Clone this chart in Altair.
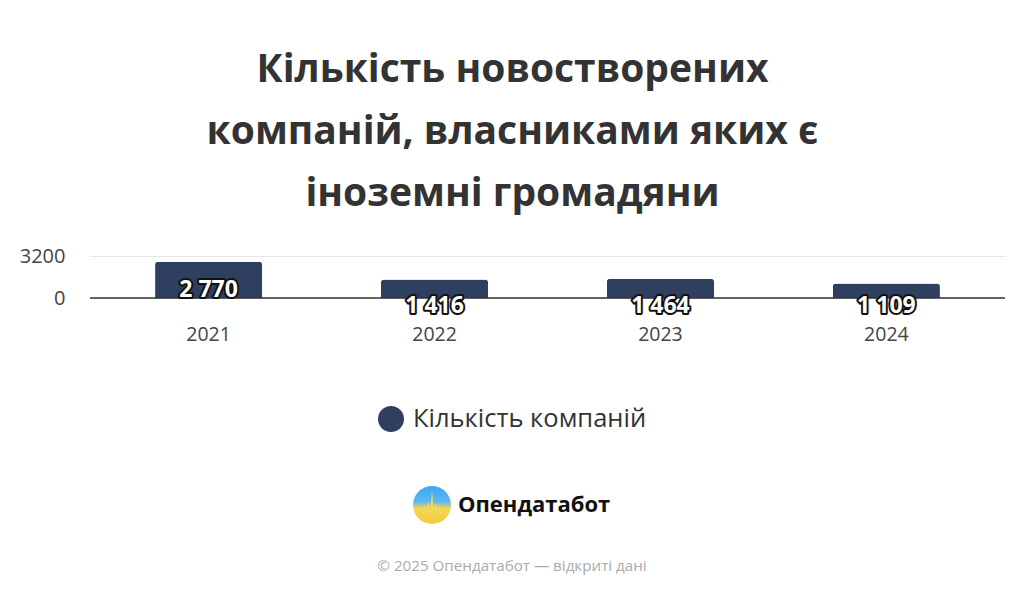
import altair as alt
import pandas as pd

years = ["2021", "2022", "2023", "2024"]
counts = [2770, 1416, 1464, 1109]
labels = ["2 770", "1 416", "1 464", "1 109"]
series_name = "Кількість компаній"
title_lines = ["Кількість новостворених", "компаній, власниками яких є", "іноземні громадяни"]
brand = "Опендатабот"
footer = "© 2025 Опендатабот — відкриті дані"

df = pd.DataFrame({"year": years, "count": counts, "label": labels,
                   "series": [series_name] * len(years)})

FONT = "Open Sans"
NAVY = "#2E3F60"

x = alt.X("year:N", sort=years, title=None,
          scale=alt.Scale(paddingInner=0.526, paddingOuter=0.288),
          axis=alt.Axis(labelAngle=0, labelFontSize=19.5, labelColor="#444",
                        labelPadding=27, domain=False, ticks=False, labelFont=FONT))
y = alt.Y("count:Q", title=None,
          scale=alt.Scale(domain=[0, 3200], nice=False),
          axis=alt.Axis(values=[0, 3200], format="d", labelFontSize=20,
                        labelColor="#444", labelPadding=25, domain=False,
                        ticks=False, gridColor="#e6e6e6", labelFont=FONT))

base = alt.Chart(df)

bars = base.mark_bar(cornerRadiusTopLeft=3, cornerRadiusTopRight=3).encode(
    x=x, y=y,
    color=alt.Color("series:N", scale=alt.Scale(domain=[series_name], range=[NAVY]),
                    legend=alt.Legend(orient="none", legendX=288, legendY=150,
                                      title=None, symbolType="circle",
                                      symbolSize=676, labelFontSize=25.5,
                                      labelFont=FONT, labelColor="#333",
                                      labelLimit=600,
                                      symbolStrokeWidth=0, labelOffset=9))
)

rule = alt.Chart(pd.DataFrame({"v": [0]})).mark_rule(color="#333", strokeWidth=1.5).encode(
    y=alt.Y("v:Q", scale=alt.Scale(domain=[0, 3200], nice=False))
)

def label_layer(filter_expr, dy):
    common = dict(font=FONT, fontSize=23, fontWeight="bold", baseline="middle",
                  align="center", dy=dy)
    outline = base.transform_filter(filter_expr).mark_text(
        stroke="#111", strokeWidth=4, fill="#111", strokeJoin="round", **common
    ).encode(x=alt.X("year:N", sort=years), y=alt.datum(0), text="label:N")
    fill = base.transform_filter(filter_expr).mark_text(
        fill="white", **common
    ).encode(x=alt.X("year:N", sort=years), y=alt.datum(0), text="label:N")
    return outline + fill

lab_in = label_layer("datum.year == '2021'", -8)
lab_out = label_layer("datum.year != '2021'", 8)

deco = pd.DataFrame({"t": [brand]})
grad = alt.Gradient(gradient="linear",
                    stops=[alt.GradientStop(color="#3BA7F5", offset=0),
                           alt.GradientStop(color="#5DB8F0", offset=0.42),
                           alt.GradientStop(color="#F3D653", offset=0.58),
                           alt.GradientStop(color="#F5C942", offset=1)],
                    x1=0, x2=0, y1=0, y2=1)
logo_circle = alt.Chart(deco).mark_point(shape="circle", filled=True, fill=grad,
                                         size=1444, opacity=1, strokeWidth=0).encode(
    x=alt.value(342), y=alt.value(249))
spike = alt.Chart(deco).mark_point(
    shape="M -0.6 0.2 L -0.3 0.2 L -0.2 -0.2 L -0.1 0.3 L 0 -0.75 L 0.1 0.35 L 0.2 -0.1 L 0.3 0.2 L 0.6 0.2 L 0.6 0.5 L -0.6 0.5 Z",
    filled=True, fill="#F3D653", size=1444, opacity=1, strokeWidth=0).encode(
    x=alt.value(342), y=alt.value(249))
logo_text = alt.Chart(deco).mark_text(font=FONT, fontSize=22, fontWeight="bold",
                                      color="#111", align="left", baseline="middle").encode(
    x=alt.value(368), y=alt.value(249), text="t:N")
foot = alt.Chart(pd.DataFrame({"t": [footer]})).mark_text(
    font=FONT, fontSize=15.2, color="#aaa", align="center", baseline="middle").encode(
    x=alt.value(422), y=alt.value(310), text="t:N")

chart = alt.layer(bars, rule, lab_in, lab_out, logo_circle, spike, logo_text, foot).properties(
    width=915, height=42,
    title=alt.TitleParams(text=title_lines, fontSize=39, fontWeight="bold", font=FONT,
                          color="#333", lineHeight=62, anchor="middle", dx=-35, offset=32),
    autosize=alt.AutoSizeParams(type="none"),
    padding={"left": 82, "top": 248, "right": 11, "bottom": 280},
).configure(background="white").configure_view(strokeWidth=0)

chart.save("out.html", embed_options={"renderer": "svg", "actions": False})
